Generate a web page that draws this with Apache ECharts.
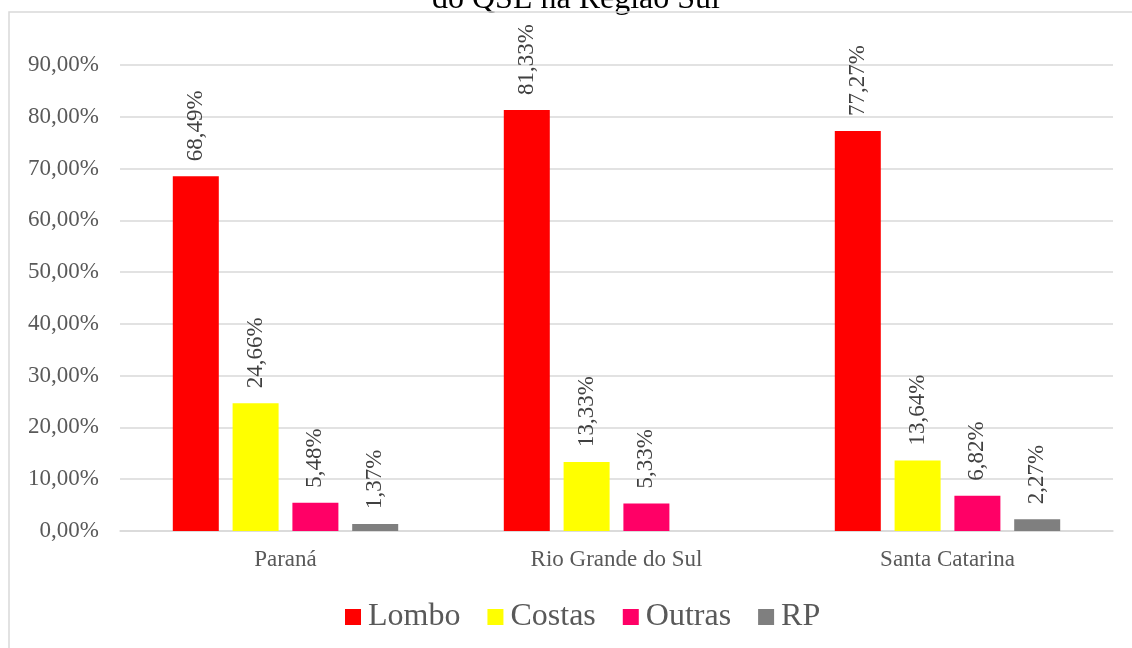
<!DOCTYPE html>
<html>
<head>
<meta charset="utf-8">
<script src="https://cdn.jsdelivr.net/npm/echarts@6/dist/echarts.min.js"></script>
<style>html,body{margin:0;padding:0;background:#fff;}#c{width:1132px;height:648px;}</style>
</head>
<body>
<div id="c"></div>
<script>
const categories = ['Paraná', 'Rio Grande do Sul', 'Santa Catarina'];
const lombo = [68.49, 81.33, 77.27];
const costas = [24.66, 13.33, 13.64];
const outras = [5.48, 5.33, 6.82];
const rp = [1.37, null, 2.27];
const seriesNames = ['Lombo', 'Costas', 'Outras', 'RP'];
const colors = ['#ff0000', '#ffff00', '#ff0066', '#7f7f7f'];
const titleText = 'do QSL na Região Sul';

const FONT = '"Liberation Serif", "Times New Roman", serif';
const fmt = v => v.toFixed(2).replace('.', ',') + '%';

const chart = echarts.init(document.getElementById('c'));
const mk = (name, data, color) => ({
  name, type: 'bar', data,
  barWidth: 46, barGap: '30%',
  itemStyle: { color },
  label: {
    show: true, position: 'top', rotate: 90, align: 'left', verticalAlign: 'middle',
    distance: 15, color: '#404040', fontFamily: FONT, fontSize: 23,
    formatter: p => p.value == null ? '' : fmt(p.value)
  }
});
chart.setOption({
  animation: false,
  backgroundColor: '#fff',
  graphic: [
    { type: 'text', x: 576, y: 16, z: 0, style: { text: titleText, font: '32px ' + FONT, fill: '#000', align: 'center', verticalAlign: 'bottom' } },
    { type: 'rect', z: 10, shape: { x: 9, y: 12, width: 1300, height: 800 }, style: { fill: 'none', stroke: '#d9d9d9', lineWidth: 1.5 }, silent: true }
  ],
  grid: { left: 120, right: 19, top: 65, bottom: 117 },
  legend: {
    top: 596, left: 340, itemWidth: 16, itemHeight: 16, itemGap: 27, icon: 'rect',
    textStyle: { fontFamily: FONT, fontSize: 32, color: '#595959', padding: [0, 0, 0, 2] },
    data: seriesNames
  },
  xAxis: {
    type: 'category', data: categories,
    axisLine: { lineStyle: { color: '#d9d9d9', width: 1.5 } },
    axisTick: { show: false },
    axisLabel: { fontFamily: FONT, fontSize: 23, color: '#595959', margin: 17 }
  },
  yAxis: {
    type: 'value', min: 0, max: 90, interval: 10,
    axisLine: { show: false }, axisTick: { show: false },
    splitLine: { lineStyle: { color: '#d9d9d9', width: 1.5 } },
    axisLabel: { fontFamily: FONT, fontSize: 23, color: '#595959', margin: 21, formatter: v => fmt(v) }
  },
  series: [
    mk(seriesNames[0], lombo, colors[0]),
    mk(seriesNames[1], costas, colors[1]),
    mk(seriesNames[2], outras, colors[2]),
    mk(seriesNames[3], rp, colors[3])
  ]
});
</script>
</body>
</html>
